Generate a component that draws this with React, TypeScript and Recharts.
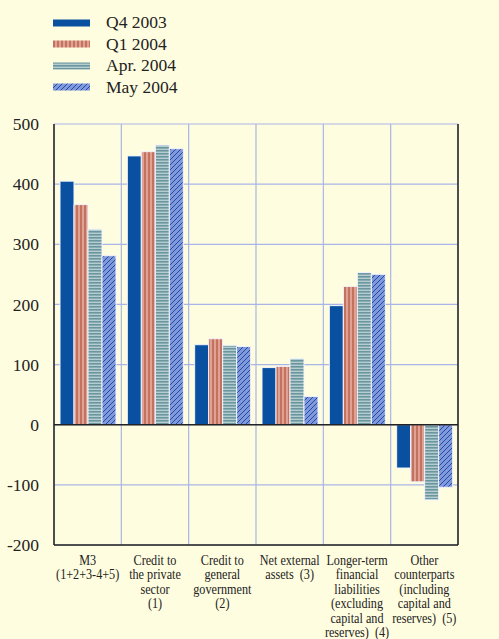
import React from "react"
import { Bar, BarChart, CartesianGrid, ReferenceLine, XAxis, YAxis } from "recharts"

const categories = [
  ["M3", "(1+2+3-4+5)"],
  ["Credit to", "the private", "sector", "(1)"],
  ["Credit to", "general", "government", "(2)"],
  ["Net external", "assets  (3)"],
  ["Longer-term", "financial", "liabilities", "(excluding", "capital and", "reserves)  (4)"],
  ["Other", "counterparts", "(including", "capital and", "reserves)  (5)"],
]

const seriesNames = ["Q4 2003", "Q1 2004", "Apr. 2004", "May 2004"]

const q4_2003 = [405, 447, 133, 95, 198, -72]
const q1_2004 = [366, 454, 143, 97, 230, -95]
const apr_2004 = [325, 465, 132, 110, 253, -125]
const may_2004 = [281, 459, 130, 47, 250, -104]

const yTicks = [-200, -100, 0, 100, 200, 300, 400, 500]

const data = categories.map((lines, i) => ({
  name: lines.join(" "),
  q4: q4_2003[i],
  q1: q1_2004[i],
  apr: apr_2004[i],
  may: may_2004[i],
}))

const BG = "#fffde0"
const GRID = "#a9b5e6"
const FONT = "'Liberation Serif', 'Times New Roman', serif"

const fills = ["#0a50a0", "url(#pQ1)", "url(#pApr)", "url(#pMay)"]
const keys = ["q4", "q1", "apr", "may"]

function Patterns() {
  return (
    <svg width={0} height={0} style={{ position: "absolute" }}>
      <defs>
        <pattern id="pQ1" patternUnits="userSpaceOnUse" width={4} height={4}>
          <rect width={4} height={4} fill="#dfa293" />
          <rect width={2} height={4} fill="#c2725f" />
        </pattern>
        <pattern id="pApr" patternUnits="userSpaceOnUse" width={4} height={3}>
          <rect width={4} height={3} fill="#b5cdcf" />
          <rect width={4} height={1.6} fill="#6a96a0" />
        </pattern>
        <pattern id="pMay" patternUnits="userSpaceOnUse" width={5} height={5}>
          <rect width={5} height={5} fill="#8199d8" />
          <path d="M0,5 L5,0 M-1,1 L1,-1 M4,6 L6,4" stroke="#1d4cae" strokeWidth={1} />
        </pattern>
      </defs>
    </svg>
  )
}

// the source uses a narrow serif, so squeeze the labels sideways
const CategoryTick = ({ x, y, payload }: any) => {
  const lines = categories[payload.index] || []
  return (
    <g transform={`translate(${x},${y})`}>
      <g transform="scale(0.87,1)">
        <text x={0} y={12} textAnchor="middle" fontFamily={FONT} fontSize={14} fill="#222" style={{ whiteSpace: "pre" }}>
          {lines.map((l, i) => (
            <tspan key={i} x={0} dy={i === 0 ? 0 : 14.4}>
              {l}
            </tspan>
          ))}
        </text>
      </g>
    </g>
  )
}

const RightTick = ({ x, y, payload }: any) => (
  <text x={x + 33} y={y} dy={6} textAnchor="end" fontFamily={FONT} fontSize={17.5} fill="#222">
    {payload.value}
  </text>
)

function Legend() {
  return (
    <div style={{ position: "absolute", left: 53, top: 12, fontFamily: FONT, fontSize: 17.5, color: "#222" }}>
      {seriesNames.map((s, i) => (
        <div key={s} style={{ display: "flex", alignItems: "center", height: 21.5 }}>
          <svg width={37} height={8} style={{ marginRight: 16 }}>
            <rect x={0} y={0.5} width={37} height={7} fill={fills[i]} />
          </svg>
          <span>{s}</span>
        </div>
      ))}
    </div>
  )
}

// vertical grid lines sit on the category boundaries, not the centres
const boundaryLines = ({ offset }: any) =>
  Array.from({ length: categories.length + 1 }, (_, i) => offset.left + (i * offset.width) / categories.length)

export default function App() {
  return (
    <div style={{ position: "absolute", left: 0, top: 0, width: 499, height: 639, background: BG, overflow: "hidden" }}>
      <Patterns />
      <Legend />
      <BarChart
        width={499}
        height={639}
        data={data}
        margin={{ top: 124, right: 0, left: 0, bottom: 0 }}
        barCategoryGap={6}
        barGap={0}
      >
        <CartesianGrid
          xAxisId="cat"
          yAxisId="left"
          stroke={GRID}
          strokeWidth={1.2}
          verticalCoordinatesGenerator={boundaryLines}
        />
        <XAxis
          xAxisId="cat"
          dataKey="name"
          height={94}
          interval={0}
          tickLine={false}
          axisLine={{ stroke: "#222", strokeWidth: 1.5 }}
          tick={<CategoryTick />}
        />
        <YAxis
          yAxisId="left"
          domain={[-200, 500]}
          ticks={yTicks}
          width={54}
          tickLine={false}
          tickMargin={9}
          axisLine={{ stroke: "#222", strokeWidth: 1.5 }}
          tick={{ fontFamily: FONT, fontSize: 17.5, fill: "#222" }}
        />
        <YAxis
          yAxisId="right"
          orientation="right"
          domain={[-200, 500]}
          ticks={yTicks}
          width={41}
          tickLine={false}
          axisLine={{ stroke: "#222", strokeWidth: 1.5 }}
          tick={<RightTick />}
        />
        <ReferenceLine xAxisId="cat" yAxisId="left" y={0} stroke="#222" strokeWidth={1.5} />
        {keys.map((k, i) => (
          <Bar
            key={k}
            xAxisId="cat"
            yAxisId="left"
            dataKey={k}
            name={seriesNames[i]}
            fill={fills[i]}
            stroke="#f2f3fb"
            strokeWidth={1}
            isAnimationActive={false}
          />
        ))}
      </BarChart>
    </div>
  )
}
